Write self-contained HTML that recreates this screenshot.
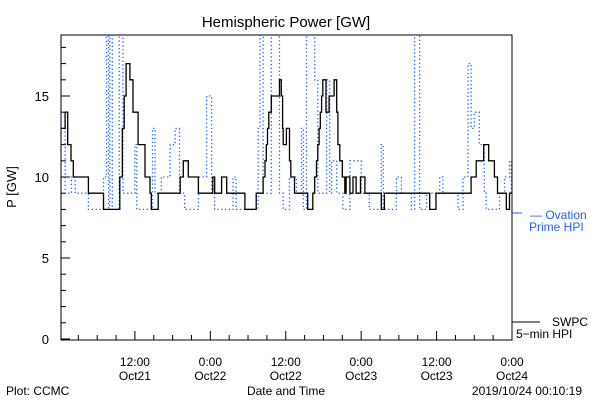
<!DOCTYPE html>
<html><head><meta charset="utf-8"><style>
body{margin:0;background:#fff;}
svg{display:block;font-family:"Liberation Sans",sans-serif;}
</style></head><body>
<svg id="chart" width="600" height="400" viewBox="0 0 600 400">
<text x="286" y="27" font-size="15" text-anchor="middle">Hemispheric Power [GW]</text>
<text x="16" y="187" font-size="13" text-anchor="middle" transform="rotate(-90 16 187)">P [GW]</text>
<text x="286" y="395" font-size="12" text-anchor="middle">Date and Time</text>
<text x="6" y="395" font-size="12">Plot: CCMC</text>
<text x="582" y="395" font-size="12" text-anchor="end">2019/10/24 00:10:19</text>
<defs><clipPath id="pc"><rect x="61" y="35" width="451" height="305"/></clipPath></defs>
<g id="axes"></g>
<g id="series" clip-path="url(#pc)"></g>
<rect x="61" y="35" width="451" height="305" fill="none" stroke="#000" stroke-width="1"/>
<line x1="512" y1="213" x2="522" y2="213" stroke="#1f5fff"/>
<text x="530" y="219" font-size="12" fill="#1f5fff">— Ovation</text>
<text x="529" y="231" font-size="12" fill="#1f5fff">Prime HPI</text>
<line x1="512" y1="322" x2="540" y2="322" stroke="#000"/>
<text x="552" y="326" font-size="12">SWPC</text>
<text x="516" y="338" font-size="12">5−min HPI</text>
</svg>
<script>
const yTicks=[0,5,10,15];
const xTickLabels=[["12:00","Oct21"],["0:00","Oct22"],["12:00","Oct22"],["0:00","Oct23"],["12:00","Oct23"],["0:00","Oct24"]];
const xTickHours=[12,24,36,48,60,72];
const swpcHours=[0.35,0.9,1.3,1.83,2.2,4.6,7.0,9.6,10.0,10.3,10.6,11.2,11.7,12.5,13.6,14.4,14.6,15.4,15.7,18.9,19.2,19.7,20.5,22.1,24.4,24.7,25.8,26.6,29.5,31.3,32.4,32.7,32.9,33.1,33.3,33.5,33.7,35.0,35.3,35.5,35.6,36.1,36.6,36.8,37.4,39.5,40.2,40.3,40.6,40.9,41.1,41.3,41.5,41.7,41.9,42.4,42.6,42.9,43.5,43.7,44.1,44.3,44.6,45.0,45.4,45.6,46.2,46.7,47.2,47.9,48.6,51.2,51.7,58.9,59.9,65.5,66.3,67.5,68.3,69.2,69.7,71.1,71.6];
const swpcValues=[13,14,12,11,10,9,8,10,13,15,17,16,14,12,10,9,8,8,9,9,10,11,10,9,10,9,10,9,8,9,10,11,12,13,14,14,15,16,15,13,12,13,11,10,9,8,8,9,10,11,12,13,14,15,16,14,14,15,15,16,14,12,11,10,9,10,9,10,9,10,9,8,9,8,9,10,11,12,11,10,9,8,9];
const ovationHours=[0.35,0.9,1.9,2.5,4.3,4.6,5.9,7.0,7.5,7.8,8.0,8.4,9.5,10.1,11.7,12.0,12.3,13.9,14.8,15.2,16.2,17.6,18.4,19.1,19.9,21.0,22.1,23.4,24.2,24.7,26.3,27.6,28.1,31.1,31.6,31.9,32.4,33.7,34.8,35.0,35.6,36.6,37.7,38.5,38.8,39.3,40.1,40.6,41.1,42.5,42.7,43.0,43.3,44.1,45.1,46.2,47.2,48.0,49.3,50.1,51.2,51.5,52.8,53.6,54.4,56.0,56.5,56.8,57.3,58.4,60.5,61.0,63.4,64.2,65.0,65.5,66.0,66.8,67.6,67.9,70.0,70.8,71.6,71.9];
const ovationValues=[14,9,10,9,9,8,8,10,20,8,20,8,20,9,9,12,8,8,13,9,10,12,13,9,8,8,10,15,9,8,8,10,8,8,13,20,9,20,20,9,8,10,9,13,8,20,20,16,9,16,16,9,11,9,8,11,11,9,8,8,12,8,8,10,9,8,20,20,8,9,10,9,8,10,17,13,14,12,9,8,9,10,11,9];
const NS="http://www.w3.org/2000/svg";
const X0=61,X1=512,Y0=339,PPU=16.2,H0=0.24,H1=72;
function xs(h){return X0+(h-H0)/(H1-H0)*(X1-X0);}
function ys(v){return Y0-v*PPU;}
function stepPts(hs,vs){const p=[];for(let i=0;i<hs.length;i++){const x=xs(hs[i]),y=ys(vs[i]);p.push(x.toFixed(1)+','+y.toFixed(1));const nx=i+1<hs.length?xs(hs[i+1]):X1;p.push(nx.toFixed(1)+','+y.toFixed(1));}return p.join(' ');}
const axes=document.getElementById('axes'),series=document.getElementById('series');
function mk(tag,attrs,parent){const e=document.createElementNS(NS,tag);for(const k in attrs)e.setAttribute(k,attrs[k]);parent.appendChild(e);return e;}
for(let v=0;v<=18;v++){
  const t=mk('line',{x1:X0,x2:X0+(v%5===0?9:5),y1:ys(v),y2:ys(v),stroke:'#000'},axes);
  
  
}
yTicks.forEach(v=>{
  const t=mk('text',{x:X0-12,y:ys(v)+5,'font-size':13,'text-anchor':'end'},axes);
  t.textContent=v;
  
  
});
for(let h=3;h<=72;h+=3){
  const major=h%12===0;
  const t=mk('line',{x1:xs(h),x2:xs(h),y1:340,y2:340-(major?9:5),stroke:'#000'},axes);
  
  
}
xTickHours.forEach((h,i)=>{
  const t=mk('text',{x:xs(h),y:366,'font-size':12,'text-anchor':'middle'},axes);
  t.textContent=xTickLabels[i][0];
  
  
  const t2=mk('text',{x:xs(h),y:380,'font-size':12,'text-anchor':'middle'},axes);
  t2.textContent=xTickLabels[i][1];
  
  
});
const op=mk('polyline',{points:stepPts(ovationHours,ovationValues),fill:'none',stroke:'#1f5fff','stroke-width':1.3,'stroke-dasharray':'1.3,2.5'},series);


const sp=mk('polyline',{points:stepPts(swpcHours,swpcValues),fill:'none',stroke:'#000','stroke-width':1.3},series);


</script>
</body></html>
